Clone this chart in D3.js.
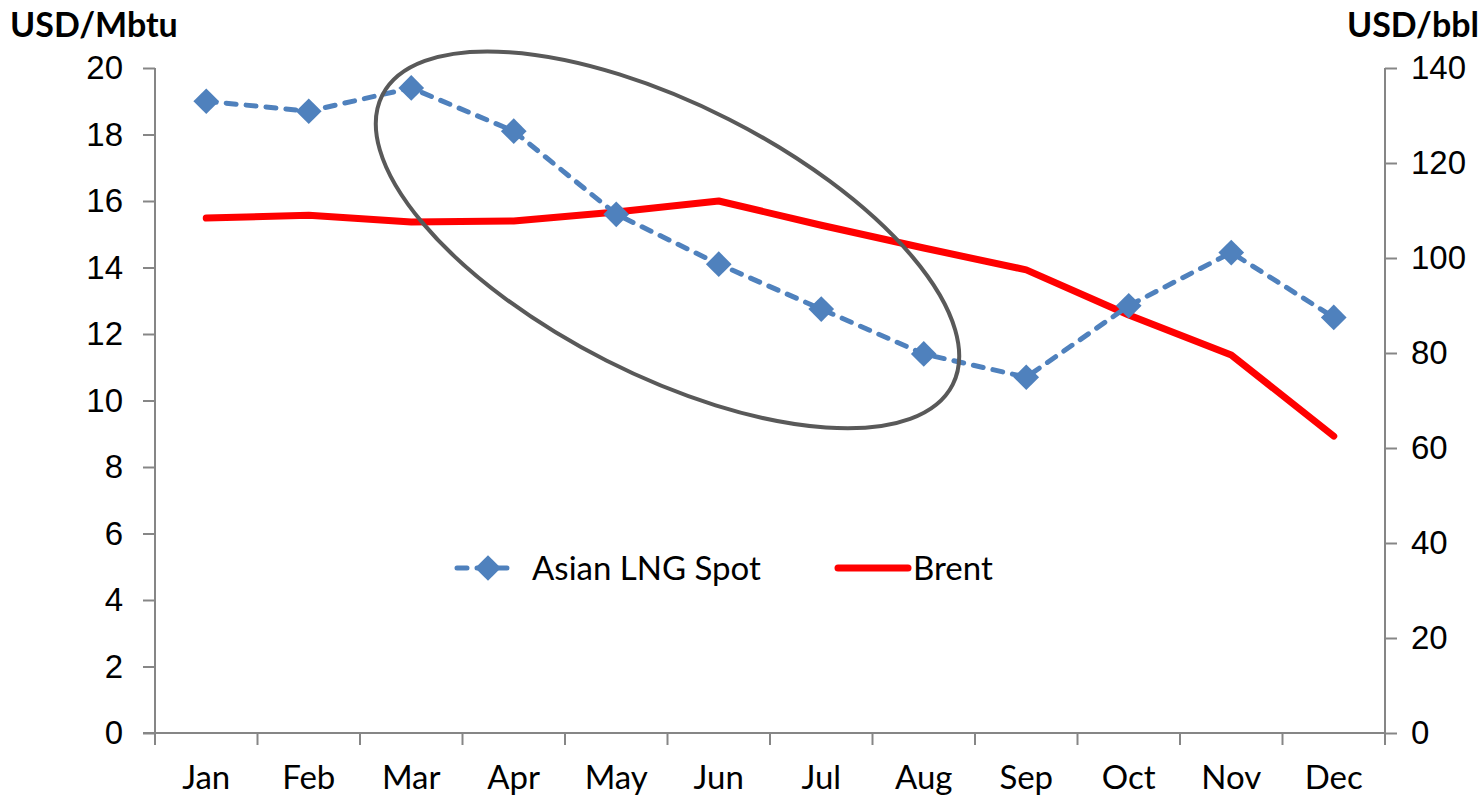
<!DOCTYPE html>
<html>
<head>
<meta charset="utf-8">
<script src="https://cdn.jsdelivr.net/npm/d3@7"></script>
<style>
  html, body { margin: 0; padding: 0; background: #fff; }
  svg { display: block; font-family: Lato, "Open Sans", sans-serif; }
</style>
</head>
<body>
<svg id="chart" width="1483" height="796"></svg>
<script>
var months = ['Jan', 'Feb', 'Mar', 'Apr', 'May', 'Jun', 'Jul', 'Aug', 'Sep', 'Oct', 'Nov', 'Dec'];
var lng = [19.0, 18.7, 19.4, 18.1, 15.6, 14.1, 12.75, 11.4, 10.7, 12.85, 14.45, 12.5];
var brent = [108.4, 109.0, 107.6, 107.8, 109.7, 112.0, 106.9, 102.1, 97.5, 88.0, 79.6, 62.5];
var leftTicks = [0, 2, 4, 6, 8, 10, 12, 14, 16, 18, 20];
var rightTicks = [0, 20, 40, 60, 80, 100, 120, 140];

var svg = d3.select('#chart'),
    margin = {top: 68, right: 98, bottom: 63, left: 155},
    width = +svg.attr('width') - margin.left - margin.right,
    height = +svg.attr('height') - margin.top - margin.bottom,
    g = svg.append('g')
          .attr('transform', `translate(${margin.left}, ${margin.top})`);

var axisColor = '#868686',
    fontSize = 33;

var x = d3.scaleBand().domain(months).range([0, width]),
    yL = d3.scaleLinear().domain([0, 20]).range([height, 0]),
    yR = d3.scaleLinear().domain([0, 140]).range([height, 0]);

var cx = d => x(d) + x.bandwidth() / 2;

function styleAxis(sel) {
  sel.selectAll('path, line').attr('stroke', axisColor).attr('stroke-width', 2);
  sel.selectAll('text').attr('fill', '#000').style('font-size', fontSize + 'px');
}

// left axis
g.append('g')
  .call(d3.axisLeft(yL).tickValues(leftTicks).tickSize(12).tickSizeOuter(0).tickPadding(20))
  .call(styleAxis)
  .call(a => a.select('.domain').attr('d', `M0,0V${height}`));

// right axis
g.append('g')
  .attr('transform', `translate(${width}, 0)`)
  .call(d3.axisRight(yR).tickValues(rightTicks).tickSize(12).tickSizeOuter(0).tickPadding(14))
  .call(styleAxis)
  .call(a => a.select('.domain').attr('d', `M0,0V${height}`));

// bottom axis, ticks at band edges
var xAxis = g.append('g').attr('transform', `translate(0, ${height})`);
xAxis.append('line')
  .attr('x1', -12).attr('x2', width)
  .attr('stroke', axisColor).attr('stroke-width', 2);
xAxis.selectAll('.edge')
  .data(months.concat(['end']))
  .enter().append('line')
    .attr('x1', (d, i) => i < months.length ? x(d) : width)
    .attr('x2', (d, i) => i < months.length ? x(d) : width)
    .attr('y1', 0).attr('y2', 12)
    .attr('stroke', axisColor).attr('stroke-width', 2);
xAxis.selectAll('.lbl')
  .data(months)
  .enter().append('text')
    .attr('x', d => cx(d))
    .attr('y', 56)
    .attr('text-anchor', 'middle')
    .style('font-size', fontSize + 'px')
    .text(d => d);

// axis titles
svg.append('text')
  .attr('x', 10).attr('y', 37)
  .style('font-size', '34px').style('font-weight', 'bold')
  .text('USD/Mbtu');
svg.append('text')
  .attr('x', 1479).attr('y', 37)
  .attr('text-anchor', 'end')
  .style('font-size', '34px').style('font-weight', 'bold')
  .text('USD/bbl');

// Brent line
var brentLine = d3.line()
  .x((d, i) => cx(months[i]))
  .y(d => yR(d));

g.append('path')
  .datum(brent)
  .attr('fill', 'none')
  .attr('stroke', '#ff0000')
  .attr('stroke-width', 7)
  .attr('stroke-linejoin', 'round')
  .attr('stroke-linecap', 'round')
  .attr('d', brentLine);

// LNG line
var lngLine = d3.line()
  .x((d, i) => cx(months[i]))
  .y(d => yL(d));

g.append('path')
  .datum(lng)
  .attr('fill', 'none')
  .attr('stroke', '#4f81bd')
  .attr('stroke-width', 5)
  .attr('stroke-dasharray', '10,10')
  .attr('stroke-linecap', 'round')
  .attr('d', lngLine);

var diamond = d3.symbol().type(d3.symbolSquare).size(330);

g.selectAll('.pt')
  .data(lng)
  .enter().append('path')
    .attr('d', diamond)
    .attr('transform', (d, i) => `translate(${cx(months[i])}, ${yL(d)}) rotate(45)`)
    .attr('fill', '#4f81bd');

// highlight ellipse around Mar-Aug decline
var bw = x.bandwidth();
g.append('ellipse')
  .attr('cx', x('Jun'))
  .attr('cy', yL(14.83))
  .attr('rx', bw * 3.12)
  .attr('ry', bw * 1.32)
  .attr('transform', `rotate(26.9, ${x('Jun')}, ${yL(14.83)})`)
  .attr('fill', 'none')
  .attr('stroke', '#595959')
  .attr('stroke-width', 4);

// legend
var legend = svg.append('g').attr('transform', 'translate(0, 568)');
legend.append('line')
  .attr('x1', 457).attr('x2', 515)
  .attr('stroke', '#4f81bd').attr('stroke-width', 5)
  .attr('stroke-dasharray', '10,10').attr('stroke-linecap', 'round');
legend.append('path')
  .attr('d', diamond)
  .attr('transform', 'translate(488, 0) rotate(45)')
  .attr('fill', '#4f81bd');
legend.append('text')
  .attr('x', 532).attr('y', 12)
  .style('font-size', fontSize + 'px')
  .text('Asian LNG Spot');
legend.append('line')
  .attr('x1', 838).attr('x2', 908)
  .attr('stroke', '#ff0000').attr('stroke-width', 7)
  .attr('stroke-linecap', 'round');
legend.append('text')
  .attr('x', 913).attr('y', 12)
  .style('font-size', fontSize + 'px')
  .text('Brent');
</script>
</body>
</html>
